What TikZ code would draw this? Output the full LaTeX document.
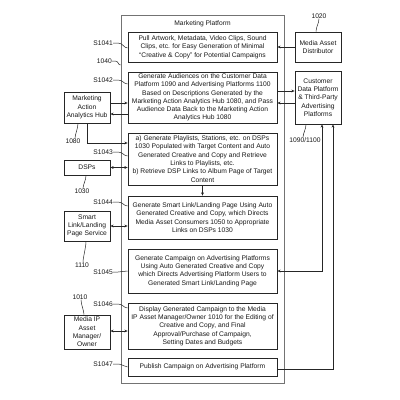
\documentclass[tikz,border=0pt]{standalone}
\usepackage{fontspec}
\setmainfont{Liberation Sans}
\usetikzlibrary{arrows.meta,calc}
\begin{document}
\begin{tikzpicture}[x=1pt,y=-1pt,
 every node/.style={font=\fontsize{6.7}{8.3}\selectfont, inner sep=0pt, text=black!90},
 box/.style={draw=black!85, line width=0.75pt, align=center},
 inbox/.style={box, minimum width=149pt},
 sidebox/.style={box, minimum width=46pt},
 conn/.style={line width=0.6pt, draw=black!85},
 tip/.style={-{Stealth[length=3.2pt,width=2.8pt]}},
 dtip/.style={{Stealth[length=3.2pt,width=2.8pt]}-{Stealth[length=3.2pt,width=2.8pt]}},
 lead/.style={line width=0.5pt, draw=black!85},
 lbl/.style={anchor=east}
]
\useasboundingbox (0,0) rectangle (400,400);
\fill[white] (0,0) rectangle (400,400);

% outer platform
\node[draw=black!55, line width=0.8pt, minimum width=163pt, minimum height=368pt] (mp) at (202.5,199) {};
\node (mpt) at (202.5,24) {Marketing Platform};

% inner steps
\node[inbox, minimum height=30pt] (s1041) at (202.5,47) {Pull Artwork, Metadata, Video Clips, Sound\\Clips, etc. for Easy Generation of Minimal\\“Creative \& Copy” for Potential Campaigns};
\node[inbox, minimum height=51pt] (s1042) at (202.5,97.5) {Generate Audiences on the Customer Data\\Platform 1090 and Advertising Platforms 1100\\Based on Descriptions Generated by the\\Marketing Action Analytics Hub 1080, and Pass\\Audience Data Back to the Marketing Action\\Analytics Hub 1080};
\node[inbox, minimum height=52pt] (s1043) at (202.5,159) {a) Generate Playlists, Stations, etc. on DSPs\\1030 Populated with Target Content and Auto\\Generated Creative and Copy and Retrieve\\Links to Playlists, etc.\\b) Retrieve DSP Links to Album Page of Target\\Content};
\node[inbox, minimum height=43pt] (s1044) at (202.5,217.5) {Generate Smart Link/Landing Page Using Auto\\Generated Creative and Copy, which Directs\\Media Asset Consumers 1050 to Appropriate\\Links on DSPs 1030};
\node[inbox, minimum height=44pt] (s1045) at (202.5,271) {Generate Campaign on Advertising Platforms\\Using Auto Generated Creative and Copy\\which Directs Advertising Platform Users to\\Generated Smart Link/Landing Page};
\node[inbox, minimum height=46pt] (s1046) at (202.5,326) {Display Generated Campaign to the Media\\IP Asset Manager/Owner 1010 for the Editing of\\Creative and Copy, and Final\\Approval/Purchase of Campaign,\\Setting Dates and Budgets};
\node[inbox, minimum height=18pt] (s1047) at (202.5,367) {Publish Campaign on Advertising Platform};

% left boxes
\node[sidebox, minimum height=31pt] (hub) at (87,107.5) {Marketing\\Action\\Analytics Hub};
\node[sidebox, minimum height=15pt] (dsp) at (87,167.5) {DSPs};
\node[sidebox, minimum height=30pt] (sl) at (87,226) {Smart\\Link/Landing\\Page Service};
\node[sidebox, minimum height=34pt] (ip) at (87,332) {Media IP\\Asset\\Manager/\\Owner};

% right boxes
\node[sidebox, minimum height=30pt] (mad) at (318,47) {Media Asset\\Distributor};
\node[sidebox, minimum height=53pt] (cdp) at (318,97.5) {Customer\\Data Platform\\\& Third-Party\\Advertising\\Platforms};

% connectors
\draw[conn,tip] (mad.west) -- (s1041.east);
\draw[conn,tip] (s1042.east |- 0,91) -- (cdp.west |- 0,91);
\draw[conn,tip] (cdp.west |- 0,103) -- (s1042.east |- 0,103);
\draw[conn,tip] (hub.east |- 0,103) -- (s1042.west |- 0,103);
\draw[conn,tip] (s1042.west |- 0,114) -- (hub.east |- 0,114);
\draw[conn,tip] (hub.south -| 87,0) -- (87,143) -- (s1043.west |- 0,143);
\draw[conn,dtip] (dsp.east) -- (s1043.west |- dsp.east);
\draw[conn,dtip] (sl.east) -- (s1044.west |- sl.east);
\draw[conn,dtip] (ip.east |- 0,331) -- (s1046.west |- 0,331);
\draw[conn,tip] (s1043.south) -- (s1044.north);
\draw[conn,dtip] (s1045.east) -| ($(cdp.south)+(4,0)$);
\draw[conn,tip] (s1047.east |- 0,369) -| ($(cdp.south)+(15,0)$);

% step labels with leaders
\node[lbl] (l1041) at (113,43) {S1041};
\draw[lead] (l1041.east) -- ++(5,0) .. controls +(5,0) and +(-4,0) .. (s1041.west |- 0,48);
\node[lbl] (l1040) at (112,61) {1040};
\draw[lead] (l1040.east) -- ++(3,0) .. controls +(4,0) and +(-3,0) .. (mp.west |- 0,65);
\node[lbl] (l1042) at (113,80) {S1042};
\draw[lead] (l1042.east) -- ++(5,0) .. controls +(5,0) and +(-4,0) .. (s1042.west |- 0,84);
\node[lbl] (l1043) at (113,152) {S1043};
\draw[lead] (l1043.east) -- ++(5,0) .. controls +(5,0) and +(-4,0) .. (s1043.west |- 0,156);
\node[lbl] (l1044) at (113,202) {S1044};
\draw[lead] (l1044.east) -- ++(5,0) .. controls +(5,0) and +(-4,0) .. (s1044.west |- 0,206);
\node[lbl] (l1045) at (113,272) {S1045};
\draw[lead] (l1045.east) -- ++(5,0) .. controls +(5,0) and +(-4,0) .. (s1045.west |- 0,271);
\node[lbl] (l1046) at (113,304) {S1046};
\draw[lead] (l1046.east) -- ++(5,0) .. controls +(5,0) and +(-4,0) .. (s1046.west |- 0,308);
\node[lbl] (l1047) at (113,364) {S1047};
\draw[lead] (l1047.east) -- ++(5,0) .. controls +(5,0) and +(-4,0) .. (s1047.west |- 0,367);

% reference numerals under/over side boxes
\node (n1080) at (73,141) {1080};
\draw[lead] (hub.south -| 78,0) .. controls +(0,5) and +(0,-4) .. (n1080.north -| 75,0);
\node (n1030) at (82,191) {1030};
\draw[lead] (dsp.south -| 86,0) .. controls +(0,5) and +(0,-4) .. (n1030.north -| 83,0);
\node (n1110) at (82,265) {1110};
\draw[lead] (sl.south -| 86,0) .. controls +(0,6) and +(0,-5) .. (n1110.north -| 83,0);
\node (n1010) at (80,297) {1010};
\draw[lead] (n1010.south -| 81,0) .. controls +(0,5) and +(0,-4) .. (ip.north -| 84,0);
\node (n1020) at (319,16) {1020};
\draw[lead] (n1020.south -| 319,0) .. controls +(0,5) and +(0,-5) .. (mad.north -| 316,0);
\node (n1090) at (305,140) {1090/1100};
\draw[lead] (cdp.south -| 306,0) .. controls +(0,5) and +(0,-4) .. (n1090.north -| 303,0);
\end{tikzpicture}
\end{document}
